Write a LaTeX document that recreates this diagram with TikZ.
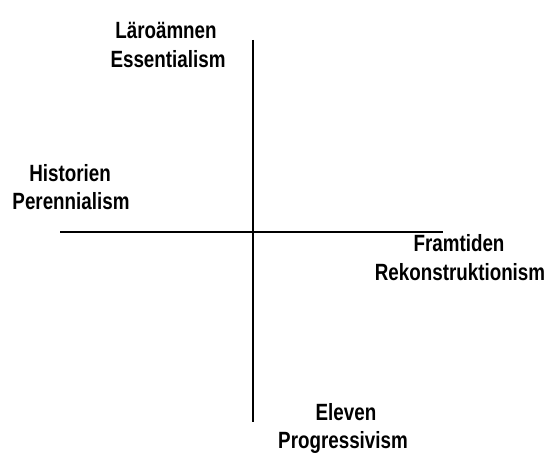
\documentclass[tikz,border=0pt]{standalone}
\usepackage{fontspec}
\newfontfamily\heavyfont{Liberation Sans Bold}[FakeStretch=0.8]
\begin{document}
\begin{tikzpicture}[x=1pt,y=1pt,
  lbl/.style={inner sep=0pt,anchor=base,font=\heavyfont\fontsize{23.5}{28}\selectfont},
  axis/.style={line width=1.4pt,black}]
\useasboundingbox (0,0) rectangle (549,454);
% axes
\coordinate (vtop) at (253,414);
\coordinate (vbot) at (253,32);
\coordinate (hleft) at (60,222);
\coordinate (hright) at (443,222);
\draw[axis] (vtop) -- (vbot);
\draw[axis] (hleft) -- (hright);
% labels
\node[lbl] (lar) at (166,415) {Läroämnen};
\node[lbl] (ess) at (168,386) {Essentialism};
\node[lbl] (his) at (70,272) {Historien};
\node[lbl] (per) at (71,244) {Perennialism};
\node[lbl] (fra) at (459,202) {Framtiden};
\node[lbl] (rek) at (460,173) {Rekonstruktionism};
\node[lbl] (ele) at (346,33) {Eleven};
\node[lbl] (pro) at (343,5) {Progressivism};
\end{tikzpicture}
\end{document}
